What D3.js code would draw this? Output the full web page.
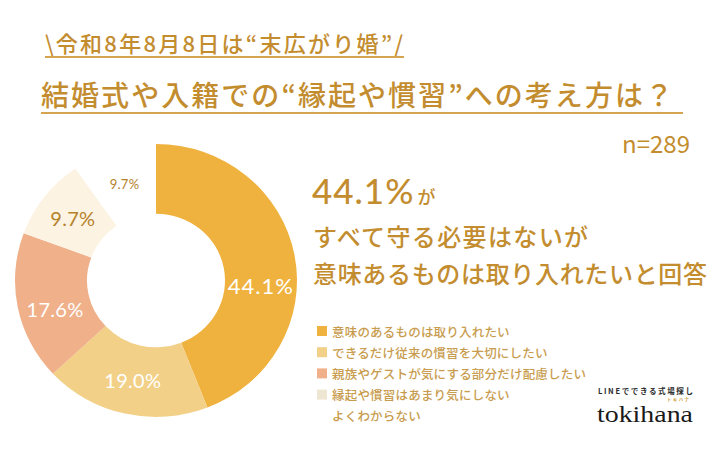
<!DOCTYPE html>
<html><head><meta charset="utf-8">
<script src="https://cdn.jsdelivr.net/npm/d3@7"></script>
<style>
html,body{margin:0;padding:0;background:#fff;}
svg{display:block;}
</style></head>
<body>
<svg id="chart" width="720" height="450"></svg>
<script>
// ---- data ----
const categories = [
  "意味のあるものは取り入れたい",
  "できるだけ従来の慣習を大切にしたい",
  "親族やゲストが気にする部分だけ配慮したい",
  "縁起や慣習はあまり気にしない",
  "よくわからない"
];
const values = [44.1, 19.0, 17.6, 9.7, 9.7];
const valueLabels = ["44.1%", "19.0%", "17.6%", "9.7%", "9.7%"];
const colors = ["#efb23f", "#f2d087", "#efb08a", "#fdf3e3", "#ffffff"];
const swatchColors = ["#efb23f", "#f2d087", "#efb08a", "#eee5d3", "#ffffff"];
const titleTop = "\\令和8年8月8日は“末広がり婚”/";
const titleMain = "結婚式や入籍での“縁起や慣習”への考え方は？";
const sampleLabel = "n=289";
const headlineValue = "44.1%";
const headlineLines = ["すべて守る必要はないが", "意味あるものは取り入れたいと回答"];

// ---- drawing ----
const svg = d3.select("#chart");
const gold = "#c38d2f";
const jp = "'Noto Sans CJK JP', 'Noto Sans', sans-serif";

// titles
svg.append("text").attr("x", 45).attr("y", 52)
  .attr("font-family", jp).attr("font-size", 22).attr("font-weight", 500)
  .attr("fill", gold).attr("textLength", 358).attr("lengthAdjust", "spacing")
  .text(titleTop);
svg.append("line").attr("x1", 45).attr("x2", 404).attr("y1", 57).attr("y2", 57)
  .attr("stroke", "#d5a450").attr("stroke-width", 2);

svg.append("text").attr("x", 41).attr("y", 106)
  .attr("font-family", jp).attr("font-size", 28).attr("font-weight", 500)
  .attr("fill", gold).attr("textLength", 632).attr("lengthAdjust", "spacing")
  .text(titleMain);
svg.append("line").attr("x1", 41).attr("x2", 683).attr("y1", 113).attr("y2", 113)
  .attr("stroke", "#d5a450").attr("stroke-width", 2);

svg.append("text").attr("x", 690).attr("y", 153).attr("text-anchor", "end")
  .attr("font-family", jp).attr("font-size", 24).attr("font-weight", 400)
  .attr("fill", gold).text(sampleLabel);

// donut
const cx = 156, cy = 280.5, rOuter = 141, rInner = 69, sy = 0.968;
const pie = d3.pie().sort(null).value(d => d)(values);
const arc = d3.arc().innerRadius(rInner).outerRadius(rOuter);
const g = svg.append("g").attr("transform", `translate(${cx},${cy}) scale(1,${sy})`);
g.selectAll("path").data(pie).join("path")
  .attr("d", arc).attr("fill", (d, i) => colors[i]);

const rLabel = (rInner + rOuter) / 2;
pie.forEach((d, i) => {
  let a = (d.startAngle + d.endAngle) / 2;
  if (i === 0) a = Math.PI / 2 + 0.05;
  if (i === 2) a -= 0.08;
  const x = cx + rLabel * Math.sin(a);
  const y = cy - rLabel * Math.cos(a) * sy;
  svg.append("text").attr("x", x).attr("y", y)
    .attr("text-anchor", "middle").attr("dominant-baseline", "central")
    .attr("font-family", "Lato, 'Noto Sans', sans-serif")
    .attr("font-size", i === 4 ? 13 : (i === 0 ? 22 : 20))
    .attr("letter-spacing", i === 0 ? 1 : 0.3)
    .attr("fill", i < 3 ? "#ffffff" : "#b5822b")
    .text(valueLabels[i]);
});

// headline
const h = svg.append("text").attr("x", 312).attr("y", 204)
  .attr("font-family", "Lato, 'Noto Sans', sans-serif").attr("fill", gold);
h.append("tspan").attr("font-size", 35).attr("font-weight", 500).attr("letter-spacing", 1).text(headlineValue);
h.append("tspan").attr("font-family", jp).attr("font-size", 18).attr("font-weight", 500).attr("dx", 3).text("が");

const hlLengths = [275, 394];
headlineLines.forEach((t, i) => {
  svg.append("text").attr("x", 313).attr("y", 246 + i * 37)
    .attr("font-family", jp).attr("font-size", 24).attr("font-weight", 500)
    .attr("fill", gold).attr("textLength", hlLengths[i]).attr("lengthAdjust", "spacing")
    .text(t);
});

// legend
const legend = svg.append("g");
categories.forEach((c, i) => {
  const yc = 331 + i * 21.2;
  legend.append("rect").attr("x", 317).attr("y", yc - 5).attr("width", 10).attr("height", 10)
    .attr("fill", swatchColors[i]);
  legend.append("text").attr("x", 332).attr("y", yc).attr("dominant-baseline", "central")
    .attr("font-family", jp).attr("font-size", 12.5).attr("font-weight", 500)
    .attr("letter-spacing", 0.2).attr("fill", "#c89c4e").text(c);
});

// logo
svg.append("text").attr("x", 598).attr("y", 394)
  .attr("font-family", jp).attr("font-size", 7.5).attr("font-weight", 700)
  .attr("fill", "#2b2b2b").attr("textLength", 95).attr("lengthAdjust", "spacing")
  .text("LINEでできる式場探し");
svg.append("text").attr("x", 667).attr("y", 401)
  .attr("font-family", jp).attr("font-size", 4.5).attr("font-weight", 700).attr("fill", "#d0a04a")
  .attr("textLength", 22).attr("lengthAdjust", "spacing").text("トキハナ");
svg.append("text").attr("x", 597).attr("y", 422)
  .attr("font-family", "'Liberation Serif', 'DejaVu Serif', serif").attr("font-size", 23)
  .attr("fill", "#1a1a1a").attr("textLength", 96).attr("lengthAdjust", "spacingAndGlyphs")
  .text("tokihana");
</script>
</body></html>
